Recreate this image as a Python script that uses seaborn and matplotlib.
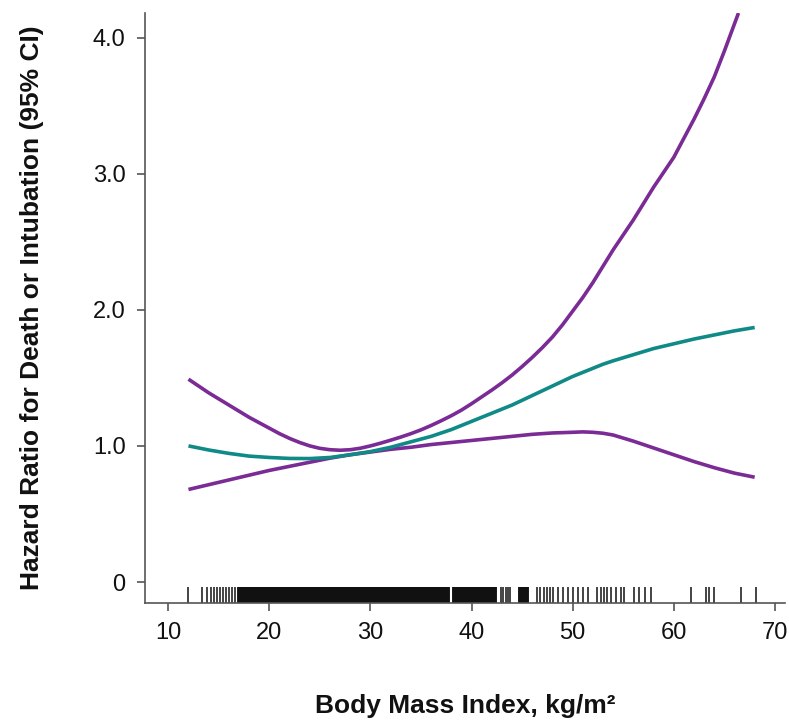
import matplotlib
matplotlib.use("Agg")
import matplotlib.pyplot as plt
import seaborn as sns
import pandas as pd

sns.set_theme(style="white")
plt.rcParams["font.family"] = ["Liberation Sans", "DejaVu Sans"]

# ---- data ----
bmi_grid = [12, 14, 16, 18, 20, 22, 24, 26, 28, 30, 32, 34, 36, 38, 40, 42,
            44, 46, 48, 50, 51, 52, 53, 54, 56, 58, 60, 62, 64, 66, 68]
hr_est = [1.00, 0.97, 0.945, 0.925, 0.915, 0.908, 0.907, 0.915, 0.935, 0.958,
          0.99, 1.03, 1.07, 1.12, 1.18, 1.24, 1.30, 1.37, 1.44, 1.51, 1.54,
          1.57, 1.60, 1.625, 1.67, 1.715, 1.75, 1.785, 1.815, 1.845, 1.87]
ci_low = [0.68, 0.715, 0.75, 0.785, 0.82, 0.85, 0.88, 0.91, 0.935, 0.955,
          0.975, 0.99, 1.01, 1.025, 1.04, 1.055, 1.07, 1.085, 1.095, 1.10,
          1.103, 1.10, 1.093, 1.08, 1.035, 0.985, 0.935, 0.885, 0.84, 0.80, 0.77]
bmi_upper = [12, 13, 14, 15, 16, 17, 18, 19, 20, 21, 22, 23, 24, 25, 26, 27,
             28, 29, 30, 31, 32, 33, 34, 35, 36, 37, 38, 39, 40, 41, 42, 43,
             44, 45, 46, 47, 48, 49, 50, 51, 52, 53, 54, 55, 56, 57, 58, 59,
             60, 61, 62, 63, 64, 65, 66, 66.4]
ci_high = [1.49, 1.44, 1.39, 1.345, 1.30, 1.255, 1.21, 1.17, 1.13, 1.09, 1.055,
           1.025, 1.00, 0.982, 0.972, 0.968, 0.972, 0.983, 1.00, 1.02, 1.042,
           1.065, 1.09, 1.118, 1.15, 1.185, 1.222, 1.263, 1.31, 1.36, 1.41,
           1.463, 1.52, 1.583, 1.65, 1.722, 1.80, 1.89, 1.99, 2.09, 2.20,
           2.32, 2.44, 2.55, 2.66, 2.78, 2.90, 3.01, 3.12, 3.26, 3.40, 3.55,
           3.71, 3.90, 4.10, 4.18]

bmi_rug_sparse = [12.0, 13.3, 13.8, 14.2, 14.5, 14.8, 15.1, 15.4, 15.7, 16.0,
                  16.3, 16.6, 42.9, 43.1, 43.4, 43.6, 43.8, 46.5, 46.8,
                  47.2, 47.5, 47.8, 48.1, 48.5, 49.0, 49.5, 50.0, 50.5, 51.0,
                  51.5, 52.4, 52.8, 53.1, 53.4, 53.8, 54.3, 54.8, 55.1, 56.1,
                  56.6, 57.2, 57.7, 61.7, 63.2, 63.5, 64.0, 66.6, 68.1]
bmi_rug_dense = [17.0, 17.25, 17.5, 17.75, 18.0, 18.25, 18.5, 18.75, 19.0,
                 19.25, 19.5, 19.75, 20.0, 20.25, 20.5, 20.75, 21.0, 21.25,
                 21.5, 21.75, 22.0, 22.25, 22.5, 22.75, 23.0, 23.25, 23.5,
                 23.75, 24.0, 24.25, 24.5, 24.75, 25.0, 25.25, 25.5, 25.75,
                 26.0, 26.25, 26.5, 26.75, 27.0, 27.25, 27.5, 27.75, 28.0,
                 28.25, 28.5, 28.75, 29.0, 29.25, 29.5, 29.75, 30.0, 30.25,
                 30.5, 30.75, 31.0, 31.25, 31.5, 31.75, 32.0, 32.25, 32.5,
                 32.75, 33.0, 33.25, 33.5, 33.75, 34.0, 34.25, 34.5, 34.75,
                 35.0, 35.25, 35.5, 35.75, 36.0, 36.25, 36.5, 36.75, 37.0,
                 37.25, 37.5, 37.7, 38.3, 38.5, 38.75, 39.0, 39.25, 39.5,
                 39.75, 40.0, 40.25, 40.5, 40.75, 41.0, 41.25, 41.5, 41.75,
                 42.0, 42.3, 44.75, 45.0, 45.25, 45.5]

x_ticks = [10, 20, 30, 40, 50, 60, 70]
y_ticks = [0, 1, 2, 3, 4]
y_tick_labels = ["0", "1.0", "2.0", "3.0", "4.0"]

purple = "#7b2b95"
teal = "#108a87"

fig = plt.figure(figsize=(7.89, 7.21), dpi=100)
ax = fig.add_axes([145 / 789, 1 - 603 / 721, (785 - 145) / 789, (603 - 13) / 721])

df_est = pd.DataFrame({"bmi": bmi_grid, "hr": hr_est})
df_low = pd.DataFrame({"bmi": bmi_grid, "hr": ci_low})
df_high = pd.DataFrame({"bmi": bmi_upper, "hr": ci_high})

line_kw = dict(linewidth=2.6, solid_joinstyle="round", solid_capstyle="butt")
sns.lineplot(data=df_high, x="bmi", y="hr", ax=ax, color=purple, **line_kw)
sns.lineplot(data=df_low, x="bmi", y="hr", ax=ax, color=purple, **line_kw)
sns.lineplot(data=df_est, x="bmi", y="hr", ax=ax, color=teal, **line_kw)

sns.rugplot(x=bmi_rug_dense, ax=ax, height=0.027, color="#111111", linewidth=2.8)
sns.rugplot(x=bmi_rug_sparse, ax=ax, height=0.027, color="#111111", linewidth=1.1)

ax.set_xlim(7.7, 71.0)
ax.set_ylim(-0.154, 4.18)
ax.set_xticks(x_ticks)
ax.set_xticklabels([str(v) for v in x_ticks])
ax.set_yticks(y_ticks)
ax.set_yticklabels(y_tick_labels)

for s in ["top", "right"]:
    ax.spines[s].set_visible(False)
for s in ["left", "bottom"]:
    ax.spines[s].set_color("#555555")
    ax.spines[s].set_linewidth(1.2)

ax.tick_params(axis="both", which="major", direction="out", length=6, width=1.2,
               color="#555555", labelsize=17, labelcolor="#111111", pad=8,
               left=True, bottom=True)

ax.set_xlabel("Body Mass Index, kg/m²", fontsize=19, fontweight="bold",
              labelpad=36, color="#111111")
ax.set_ylabel("Hazard Ratio for Death or Intubation (95% CI)", fontsize=19,
              fontweight="bold", labelpad=35, color="#111111")
ax.grid(False)

fig.savefig("out.png", dpi=100, facecolor="white")
